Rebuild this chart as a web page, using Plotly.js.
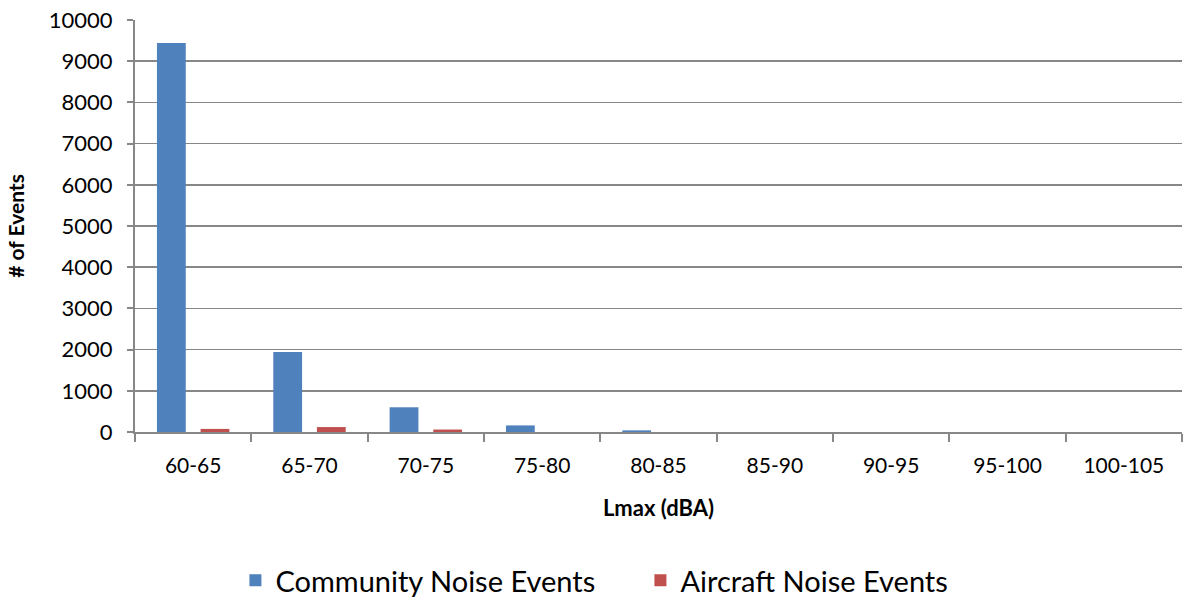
<!DOCTYPE html>
<html>
<head>
<meta charset="utf-8">
<script src="https://cdn.plot.ly/plotly-3.0.1.min.js"></script>
<style>html,body{margin:0;padding:0;background:#fff;}#chart{width:1183px;height:598px;}</style>
</head>
<body>
<div id="chart"></div>
<script>
const categories = ["60-65","65-70","70-75","75-80","80-85","85-90","90-95","95-100","100-105"];
const communityEvents = [9440, 1940, 600, 160, 40, 0, 0, 0, 0];
const aircraftEvents = [75, 120, 60, 0, 0, 0, 0, 0, 0];
const yTicks = [0,1000,2000,3000,4000,5000,6000,7000,8000,9000,10000];

const font = "Lato, 'Open Sans', sans-serif";
const data = [
  {type:"bar", name:"Community Noise Events", x:categories, y:communityEvents,
   marker:{color:"#4F81BD", line:{width:0}}},
  {type:"bar", name:"Aircraft Noise Events", x:categories, y:aircraftEvents,
   marker:{color:"#C0504D", line:{width:0}}}
];
const layout = {
  width:1183, height:598,
  margin:{l:135, r:1, t:20, b:166},
  paper_bgcolor:"#fff", plot_bgcolor:"#fff",
  barmode:"group", bargap:0.25, bargroupgap:0.34,
  font:{family:font, size:21, color:"#000"},
  xaxis:{
    type:"category", showline:true, linecolor:"#878787", linewidth:2,
    ticks:"outside", tickson:"boundaries", ticklen:8, tickcolor:"#878787", tickwidth:2,
    showgrid:false, tickfont:{size:21}, automargin:false, ticklabelstandoff:14,
    title:{text:"<b>Lmax (dBA)</b>", font:{size:22}, standoff:24}
  },
  yaxis:{
    range:[0,10000], tickvals:yTicks, ticktext:yTicks.map(String),
    showline:true, linecolor:"#878787", linewidth:2,
    ticks:"outside", ticklen:6, tickcolor:"#878787", tickwidth:2,
    showgrid:true, gridcolor:"#878787", gridwidth:1.5, zeroline:false,
    tickfont:{size:22}, automargin:false, ticklabelstandoff:10,
    title:{text:"<b># of Events</b>", font:{size:21}, standoff:18}
  },
  showlegend:true,
  legend:{orientation:"h", xref:"container", yref:"container", x:0.199, xanchor:"left",
          y:0.072, yanchor:"top", font:{size:29}, entrywidth:360, itemwidth:30,
          traceorder:"normal"}
};
Plotly.newPlot("chart", data, layout, {displayModeBar:false, staticPlot:true});
</script>
</body>
</html>
